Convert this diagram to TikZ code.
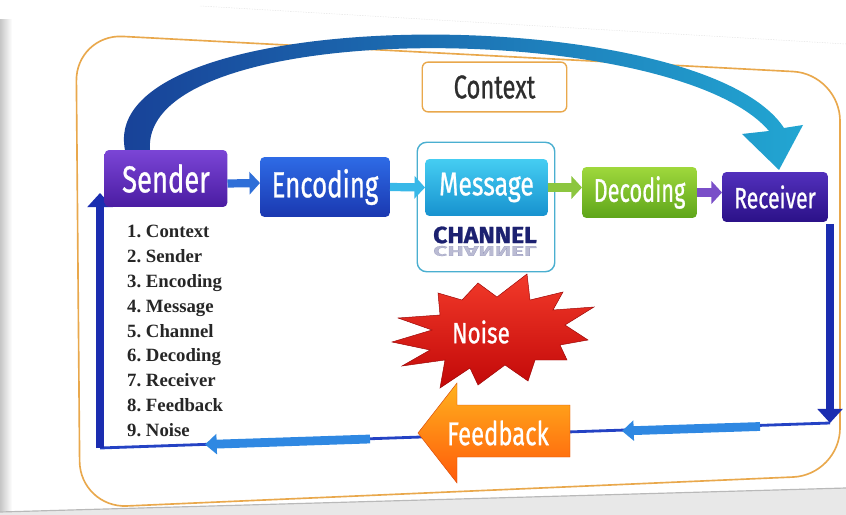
\documentclass[tikz,border=0pt]{standalone}
\usepackage{fontspec}
\usepackage{graphicx}
\setmainfont{Liberation Serif}
\newfontfamily\boxfont{Fira Sans}[FakeBold=0.9]
\usetikzlibrary{arrows.meta,calc}
\definecolor{frameC}{HTML}{E9A84C}
\definecolor{sendT}{HTML}{7B45D6}
\definecolor{sendB}{HTML}{4A1CA2}
\definecolor{encT}{HTML}{2E6BE6}
\definecolor{encB}{HTML}{1A38B0}
\definecolor{msgT}{HTML}{45CDF2}
\definecolor{msgB}{HTML}{1792CF}
\definecolor{decT}{HTML}{9FD83C}
\definecolor{decB}{HTML}{5EA51A}
\definecolor{recT}{HTML}{5230BC}
\definecolor{recB}{HTML}{2B1188}
\definecolor{chanC}{HTML}{4AAFD0}
\definecolor{chanText}{HTML}{1C2170}
\definecolor{loopC}{HTML}{1B2DB0}
\definecolor{lineC}{HTML}{2442C4}
\definecolor{segC}{HTML}{2F88E2}
\definecolor{arcL}{HTML}{173E96}
\definecolor{arcM}{HTML}{2A92C4}
\definecolor{arcR}{HTML}{22A6D2}
\definecolor{noiseT}{HTML}{F23A2A}
\definecolor{noiseB}{HTML}{C20808}
\definecolor{fbT}{HTML}{FFB21E}
\definecolor{fbB}{HTML}{FF5A0A}
\definecolor{listC}{HTML}{262626}
\definecolor{ctxText}{HTML}{2E2E2E}
\definecolor{linkSE}{HTML}{2F6FD8}
\definecolor{linkEM}{HTML}{38B8E8}
\definecolor{linkMD}{HTML}{8CC63F}
\definecolor{linkDR}{HTML}{7A4FC8}
\newcommand\lbl[3]{\resizebox{#1pt}{\height}{\fontsize{#2}{#2}\selectfont #3}}
\tikzset{
  box/.style={rounded corners=3.5pt, inner sep=0pt, text=white, font=\boxfont},
  link/.style={line width=7pt, -{Triangle[length=9pt,width=19pt]}},
  loopthick/.style={line width=6.8pt, color=loopC, -{Triangle[length=12pt,width=21pt]}},
  thinline/.style={line width=2.4pt, color=lineC},
  seg/.style={line width=7.5pt, color=segC, -{Triangle[length=10pt,width=17pt]}},
  listtext/.style={font=\fontsize{16}{16}\selectfont\bfseries, text=listC, inner sep=0pt, anchor=base west}
}
\begin{document}
\begin{tikzpicture}[x=0.03cm,y=-0.03cm]
\useasboundingbox (0,0) rectangle (846,515);
\fill[white] (0,0) rectangle (846,515);
% slide edges
\shade[left color=gray!45, right color=white] (0,20) rectangle (12,515);
\fill[gray!18] (0,512) -- (846,488) -- (846,515) -- (0,515) -- cycle;
\draw[gray!55, line width=1pt] (0,512) -- (846,488);
\draw[gray!35, densely dotted] (200,6) -- (846,44);
% frame
\draw[frameC, line width=1.4pt, rounded corners=40pt] (76,34) -- (840,74) -- (840,475) -- (80,508) -- cycle;
% feedback loop
\coordinate (rt) at (830,224);
\coordinate (rb) at (830,423);
\coordinate (lb) at (100,448);
\coordinate (lt) at (100,193);
\coordinate (s1a) at (760,426.5);
\coordinate (s1b) at (622,431);
\coordinate (s2a) at (370,439);
\coordinate (s2b) at (205,444.5);
\draw[thinline] (rb) -- (lb);
\draw[loopthick] (rt) -- (rb);
\draw[loopthick] (lb) -- (lt);
\draw[seg] (s1a) -- (s1b);
\draw[seg] (s2a) -- (s2b);
% curved arrow
\shade[left color=arcL, middle color=arcM, right color=arcR]
  (125,150) .. controls (95,0) and (700,0) .. (784,128)
  -- (803,125) -- (779,170) -- (742,134) -- (769,131)
  .. controls (675,20) and (140,15) .. (150,150) -- cycle;
% context
\node[draw=frameC, fill=white, line width=1.2pt, rounded corners=5pt, inner sep=0pt,
      minimum width=123.3pt, minimum height=42.5pt, text=ctxText, font=\boxfont]
      (context) at (494.5,87) {\lbl{69.7}{28}{Context}};
% channel
\node[draw=chanC, fill=white, line width=1.2pt, rounded corners=8pt, inner sep=0pt,
      minimum width=117.4pt, minimum height=110.5pt] (channel) at (486,207) {};
% boxes
\node[box, top color=sendT, bottom color=sendB, minimum width=104.6pt, minimum height=48.5pt]
  (sender) at (166,178.5) {\lbl{74.8}{32}{Sender}};
\node[box, top color=encT, bottom color=encB, minimum width=110.6pt, minimum height=51pt]
  (encoding) at (325,187) {\lbl{91}{31}{Encoding}};
\node[box, top color=msgT, bottom color=msgB, minimum width=104.6pt, minimum height=48.5pt]
  (message) at (486.5,187.5) {\lbl{80.8}{28}{Message}};
\node[box, top color=decT, bottom color=decB, minimum width=97.8pt, minimum height=43.4pt]
  (decoding) at (639.5,192.5) {\lbl{78.2}{28}{Decoding}};
\node[box, top color=recT, bottom color=recB, minimum width=90.1pt, minimum height=42.5pt]
  (receiver) at (775,197) {\lbl{69.7}{25}{Receiver}};
\node[text=chanText, font=\boxfont\bfseries, inner sep=0pt] (chtext) at (485,235) {\lbl{88.4}{20}{CHANNEL}};
\node[text=chanText, opacity=0.3, font=\boxfont\bfseries, inner sep=0pt] (chref) at (485,251)
  {\scalebox{1}[-0.6]{\lbl{88.4}{20}{CHANNEL}}};
% links
\draw[link, linkSE] ($(sender.east)+(0,5)$) -- ($(encoding.west)+(0,-4)$);
\draw[link, linkEM] (encoding.east) -- (message.west);
\draw[link, linkMD] (message.east) -- (decoding.west |- message.east);
\draw[link, linkDR] (decoding.east) -- (receiver.west |- decoding.east);
% noise
\shade[top color=noiseT, bottom color=noiseB, draw=noiseB!80!black, line width=0.4pt]
  (398,318) -- (440,315) -- (438,293) -- (462,300) -- (478,283) -- (497,297) -- (527,274)
  -- (530,300) -- (563,292) -- (553,310) -- (594,307) -- (565,325) -- (588,340) -- (560,345)
  -- (567,360) -- (535,360) -- (528,381) -- (505,365) -- (478,385) -- (470,368) -- (440,388)
  -- (445,360) -- (402,366) -- (430,350) -- (392,342) -- (432,330) -- cycle;
\node[text=white, font=\boxfont, inner sep=0pt] (noise) at (481,332) {\lbl{49.3}{25}{Noise}};
% feedback arrow
\shade[top color=fbT, bottom color=fbB, draw=fbB!85!black, line width=0.4pt]
  (418,433) -- (457,383) -- (457,405) -- (570,405) -- (570,457) -- (457,457) -- (457,483) -- cycle;
\node[text=white, font=\boxfont, inner sep=0pt] (fb) at (498,433) {\lbl{86.7}{28}{Feedback}};
% list
\foreach \i/\t in {1/Context,2/Sender,3/Encoding,4/Message,5/Channel,6/Decoding,7/Receiver,8/Feedback,9/Noise}
  \node[listtext] (l\i) at (127,{238+24.75*(\i-1)}) {\i.\ \t};
\end{tikzpicture}
\end{document}
